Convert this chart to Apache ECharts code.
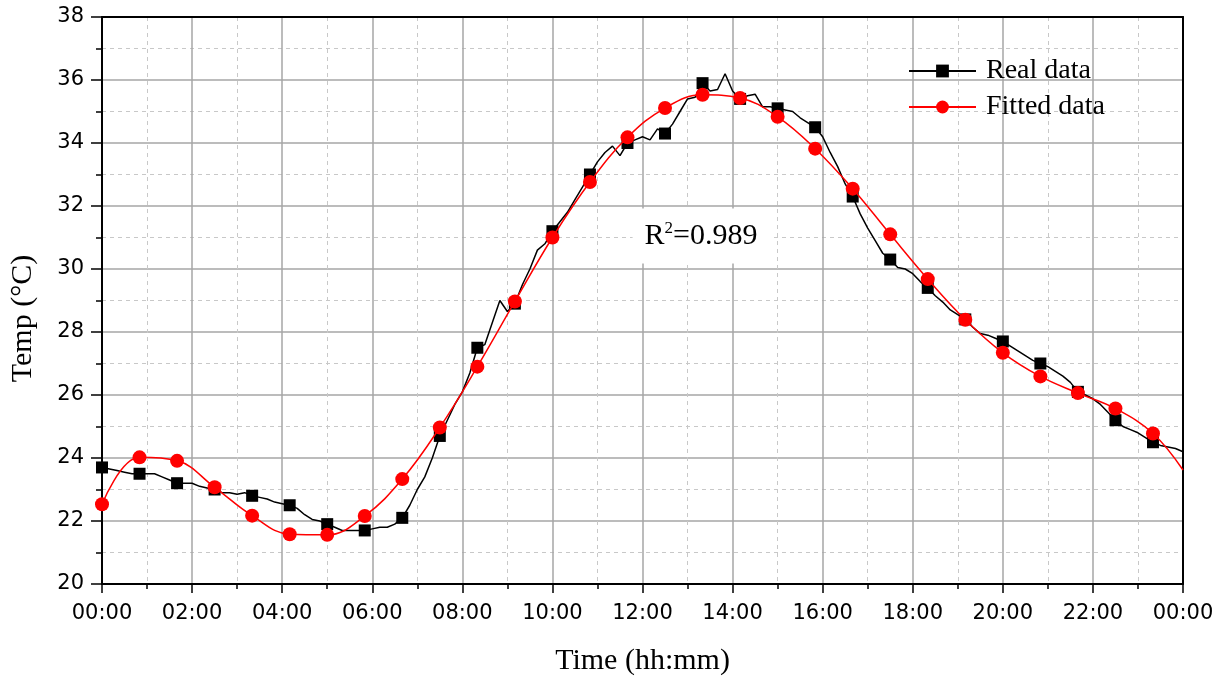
<!DOCTYPE html>
<html>
<head>
<meta charset="utf-8">
<title>Temperature over a day</title>
<script src="https://cdn.jsdelivr.net/npm/echarts@6/dist/echarts.min.js"></script>
<style>
  html, body { margin: 0; padding: 0; background: #fff; }
  #chart { width: 1221px; height: 681px; }
</style>
</head>
<body>
<div id="chart"></div>
<script>
// Measured temperature, one reading every 10 minutes from 00:00 to 24:00 (°C)
const realStepMin = 10;
const realTemp = [
  23.7, 23.65, 23.6, 23.55, 23.5, 23.5, 23.5, 23.5, 23.4, 23.3,
  23.2, 23.2, 23.2, 23.1, 23.05, 23.0, 22.9, 22.9, 22.85, 22.9,
  22.8, 22.75, 22.7, 22.6, 22.55, 22.5, 22.4, 22.2, 22.05, 22.0,
  21.9, 21.8, 21.7, 21.7, 21.7, 21.7, 21.75, 21.8, 21.8, 21.9,
  22.1, 22.5, 23.0, 23.4, 24.0, 24.7, 25.2, 25.7, 26.1, 26.7,
  27.5, 27.6, 28.3, 29.0, 28.65, 28.9, 29.5, 30.0, 30.6, 30.8,
  31.2, 31.5, 31.8, 32.2, 32.6, 33.0, 33.4, 33.7, 33.9, 33.6,
  34.0, 34.1, 34.2, 34.1, 34.45, 34.3, 34.6, 35.0, 35.4, 35.45,
  35.9, 35.65, 35.7, 36.2, 35.65, 35.4, 35.5, 35.55, 35.15, 35.15,
  35.1, 35.05, 35.0, 34.8, 34.65, 34.5, 34.2, 33.7, 33.25, 32.7,
  32.3, 31.75, 31.3, 30.9, 30.5, 30.3, 30.05, 30.0, 29.85, 29.6,
  29.4, 29.15, 28.95, 28.7, 28.55, 28.4, 28.15, 27.95, 27.9, 27.8,
  27.7, 27.55, 27.4, 27.25, 27.1, 27.0, 26.9, 26.75, 26.6, 26.4,
  26.1, 26.0, 25.88, 25.7, 25.45, 25.2, 25.0, 24.9, 24.8, 24.65,
  24.5, 24.4, 24.35, 24.3, 24.2
];
// a square marker on every 5th reading (every 50 minutes)
const realMarkerEvery = 5;

// Fitted model values every 50 minutes, plus the value at 24:00 (°C)
const fittedStepMin = 50;
const fittedTemp = [
  22.53, 24.02, 23.91, 23.07, 22.17, 21.58, 21.56, 22.16, 23.33, 24.97,
  26.9, 28.97, 31.0, 32.76, 34.18, 35.11, 35.53, 35.43, 34.83, 33.82,
  32.55, 31.1, 29.68, 28.39, 27.34, 26.59, 26.06, 25.57, 24.78
];
const fittedEnd = [1440, 23.62];

const seriesNames = ['Real data', 'Fitted data'];
const fitQuality = '0.989';

const timeMin = 0, timeMax = 1440, timeTick = 120;
const tempMin = 20, tempMax = 38, tempTick = 2;

const pad2 = n => (n < 10 ? '0' : '') + n;
const hhmm = v => pad2(Math.floor(v / 60) % 24) + ':' + pad2(v % 60);

const realData = realTemp.map((t, i) => ({
  value: [i * realStepMin, t],
  symbol: i % realMarkerEvery === 0 ? 'rect' : 'none'
}));
const fittedData = fittedTemp.map((t, i) => ({ value: [i * fittedStepMin, t] }));
fittedData.push({ value: fittedEnd, symbol: 'none' });

const serif = 'Liberation Serif, Times New Roman, serif';
const sans = 'DejaVu Sans, sans-serif';

const frameAxis = {
  show: true,
  axisLine: { show: true, onZero: false, lineStyle: { color: '#000', width: 2 } },
  axisTick: { show: false },
  axisLabel: { show: false },
  splitLine: { show: false }
};

const chart = echarts.init(document.getElementById('chart'), null, { renderer: 'canvas' });
chart.setOption({
  animation: false,
  backgroundColor: '#fff',
  grid: { left: 100, right: 38, top: 17, bottom: 95 },
  legend: {
    orient: 'vertical',
    left: 903,
    top: 52,
    itemWidth: 67,
    itemHeight: 16,
    itemGap: 8,
    data: seriesNames,
    textStyle: { fontFamily: serif, fontSize: 28, color: '#000', padding: [0, 0, 0, 5] }
  },
  xAxis: [{
    type: 'value',
    min: timeMin, max: timeMax, interval: timeTick,
    name: 'Time (hh:mm)',
    nameLocation: 'middle',
    nameGap: 62,
    nameTextStyle: { fontFamily: serif, fontSize: 30, color: '#000' },
    axisLine: { onZero: false, lineStyle: { color: '#000', width: 2 } },
    axisTick: { length: 9, lineStyle: { color: '#000', width: 1.5 } },
    minorTick: { show: true, splitNumber: 2, length: 5, lineStyle: { color: '#000', width: 1.5 } },
    axisLabel: { formatter: hhmm, fontFamily: sans, fontSize: 21, color: '#000', margin: 19 },
    splitLine: { show: true, showMinLine: false, showMaxLine: false, lineStyle: { color: '#a6a6a6', width: 1.5 } },
    minorSplitLine: { show: true, lineStyle: { color: '#c8c8c8', width: 1, type: [4, 4] } }
  }, Object.assign({ type: 'value', position: 'top', min: timeMin, max: timeMax }, frameAxis)],
  yAxis: [{
    type: 'value',
    min: tempMin, max: tempMax, interval: tempTick,
    name: 'Temp (°C)',
    nameLocation: 'middle',
    nameGap: 64,
    nameTextStyle: { fontFamily: serif, fontSize: 30, color: '#000', padding: [0, 36, 0, 0] },
    axisLine: { onZero: false, lineStyle: { color: '#000', width: 2 } },
    axisTick: { length: 11, lineStyle: { color: '#000', width: 1.5 } },
    minorTick: { show: true, splitNumber: 2, length: 6, lineStyle: { color: '#000', width: 1.5 } },
    axisLabel: { fontFamily: sans, fontSize: 21, color: '#000', margin: 18 },
    splitLine: { show: true, showMinLine: false, showMaxLine: false, lineStyle: { color: '#a6a6a6', width: 1.5 } },
    minorSplitLine: { show: true, lineStyle: { color: '#c8c8c8', width: 1, type: [4, 4] } }
  }, Object.assign({ type: 'value', position: 'right', min: tempMin, max: tempMax }, frameAxis)],
  series: [{
    name: seriesNames[0],
    type: 'line',
    data: realData,
    symbol: 'rect',
    symbolSize: 12,
    showAllSymbol: true,
    color: '#000',
    lineStyle: { color: '#000', width: 1.5 },
    itemStyle: { color: '#000' },
    z: 3
  }, {
    name: seriesNames[1],
    type: 'line',
    data: fittedData,
    smooth: 0.4,
    symbol: 'circle',
    symbolSize: 14,
    showAllSymbol: true,
    color: '#ff0000',
    lineStyle: { color: '#ff0000', width: 1.5 },
    itemStyle: { color: '#ff0000' },
    z: 4,
    markPoint: {
      silent: true,
      symbol: 'circle',
      symbolSize: 0,
      data: [{ coord: [800, 31.05] }],
      label: {
        show: true,
        position: 'inside',
        formatter: '{r|R}{s|2}{r|=' + fitQuality + '}',
        backgroundColor: '#fff',
        padding: [12, 15, 12, 12],
        rich: {
          r: { fontFamily: serif, fontSize: 30, color: '#000' },
          s: { fontFamily: serif, fontSize: 17, color: '#000', padding: [0, 0, 14, 0] }
        }
      }
    }
  }]
});
</script>
</body>
</html>
